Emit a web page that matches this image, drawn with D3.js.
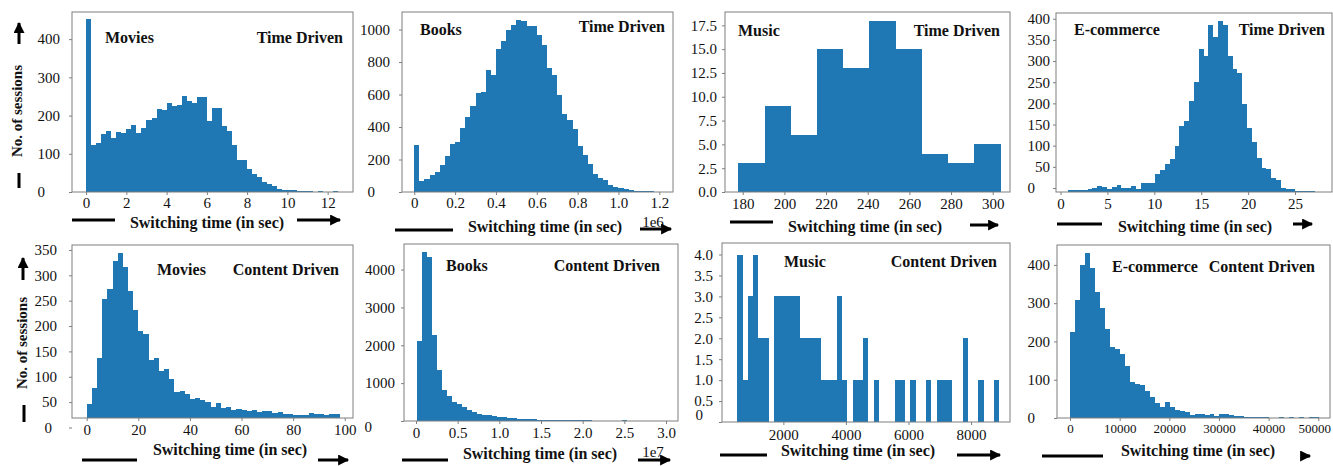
<!DOCTYPE html>
<html>
<head>
<meta charset="utf-8">
<script src="https://cdn.jsdelivr.net/npm/d3@7"></script>
<style>
  body { margin: 0; background: #fff; }
  svg { display: block; }
  text { font-family: "Liberation Serif", "Times New Roman", serif; }
</style>
</head>
<body>
<div id="chart"></div>
<script>
// histogram counts, one value per bin
const moviesTimeCounts = [452,122,127,153,160,140,156,155,166,175,155,168,188,194,216,214,234,225,228,252,
  239,234,248,248,186,219,220,173,160,122,85,85,59,48,39,26,20,16,9,6,4,4,3,3,2,1,3,1,1,3];
const booksTimeCounts = [287,68,82,103,123,164,220,298,306,394,462,528,610,616,749,719,883,928,1000,1027,
  1061,1053,1020,1020,965,903,764,719,595,482,441,386,283,226,175,109,88,76,45,31,27,16,10,6,4,4,6,2,1];
const musicTimeCounts = [3,9,6,15,13,18,15,4,3,5];
const ecomTimeCounts = [4,4,4,4,6,9,14,11,6,12,17,9,10,14,6,22,21,22,42,51,67,77,109,156,168,215,259,338,
  322,395,366,403,394,322,290,282,208,152,117,81,57,55,34,28,10,8,6,2,2,3,3];
const moviesContentCounts = [28,59,119,234,254,310,325,297,251,213,172,165,115,118,93,96,77,51,54,47,
  38,39,35,31,22,30,20,22,16,18,16,13,15,11,13,13,10,11,8,7,5,5,6,10,7,8,6,7,8];
const booksContentCounts = [2118,4475,4342,2268,1342,830,662,503,459,371,282,238,194,168,150,141,106,97,79,71,
  53,53,44,44,35,35,26,26,30,30,30,30,26,26,18,9,9,5,5,0,5,18];
const musicContentCounts = [4,1,3,4,2,2,0,3,3,3,3,3,2,2,2,2,1,1,1,3,1,0,1,1,2,0,1,0,0,0,
  1,1,0,1,0,0,1,0,1,1,1,0,0,2,0,0,1,0,0,1];
const ecomContentCounts = [224,309,400,430,391,330,287,233,185,181,167,135,94,89,87,71,55,39,28,42,
  28,22,17,15,9,10,10,9,10,6,11,10,8,6,4,3,3,3,2,2,1,1,2,1,2,1,2,1,2,2];

// bins: [first edge, bin width]
const moviesTimeBins = [0, 0.25];
const booksTimeBins = [0, 0.025];        // x 1e6
const musicTimeBins = [177.9, 12.59];
const ecomTimeBins = [0.83, 0.515];
const moviesContentBins = [0, 2];
const booksContentBins = [0.008, 0.06];  // x 1e7
const musicContentBins = [527, 167.6];
const ecomContentBins = [100, 1000];

// tick values
const moviesTimeX = [0,2,4,6,8,10,12],  moviesTimeY = [0,100,200,300,400];
const booksTimeX = [0,0.2,0.4,0.6,0.8,1.0,1.2], booksTimeY = [0,200,400,600,800,1000];
const musicTimeX = [180,200,220,240,260,280,300], musicTimeY = [0,2.5,5,7.5,10,12.5,15,17.5];
const ecomTimeX = [0,5,10,15,20,25], ecomTimeY = [0,50,100,150,200,250,300,350,400];
const moviesContentX = [0,20,40,60,80,100], moviesContentY = [0,50,100,150,200,250,300,350];
const booksContentX = [0,0.5,1.0,1.5,2.0,2.5,3.0], booksContentY = [0,1000,2000,3000,4000];
const musicContentX = [2000,4000,6000,8000], musicContentY = [0,0.5,1,1.5,2,2.5,3,3.5,4];
const ecomContentX = [0,10000,20000,30000,40000,50000], ecomContentY = [0,100,200,300,400];

const W = 1333, H = 466;
const blue = "#1f77b4";

const f1 = d => d === 0 ? "0" : d3.format(".1f")(d);
const plain = d => String(d);

let panels = [
  {counts: moviesTimeCounts, bins: moviesTimeBins, xt: moviesTimeX, yt: moviesTimeY, xf: plain, yf: plain,
   name: "Movies", kind: "Time Driven", box: [72, 12, 353, 192], xd: [-0.7, 13.26], yd: [0, 471],
   yPad: 9, yShift: 0, zero: [-15, 0], xPad: 2, nameAt: [105, 43], kindAt: [343, 43],
   label: [207, 228], line: [72, 115, 220], arrow: [297, 350, 220]},
  {counts: booksTimeCounts, bins: booksTimeBins, xt: booksTimeX, yt: booksTimeY, xf: f1, yf: plain,
   name: "Books", kind: "Time Driven", box: [402, 12, 673, 192], xd: [-0.06, 1.267], yd: [0, 1108],
   yPad: 9, yShift: 0, zero: [-15, 0], xPad: 2, nameAt: [420, 35], kindAt: [665, 32],
   label: [545, 232], line: [395, 453, 230], arrow: [640, 681, 229], expo: ["1e6", 653, 227]},
  {counts: musicTimeCounts, bins: musicTimeBins, xt: musicTimeX, yt: musicTimeY, xf: plain, yf: d3.format(".1f"),
   name: "Music", kind: "Time Driven", box: [725, 12, 1010, 192], xd: [171.5, 308.3], yd: [0, 18.9],
   yPad: 5, yShift: 0, zero: [0, 0], xPad: 3, nameAt: [738, 36], kindAt: [1000, 36],
   label: [865, 232], line: [730, 773, 222], arrow: [970, 1008, 225]},
  {counts: ecomTimeCounts, bins: ecomTimeBins, xt: ecomTimeX, yt: ecomTimeY, xf: plain, yf: plain,
   name: "E-commerce", kind: "Time Driven", box: [1056, 13, 1332, 192], xd: [-0.48, 28.94], yd: [0, 423],
   yPad: 3, yShift: -4, zero: [-15, 0], xPad: 3, nameAt: [1074, 35], kindAt: [1325, 35],
   label: [1195, 232], line: [1057, 1102, 224], arrow: [1293, 1322, 224]},
  {counts: moviesContentCounts, bins: moviesContentBins, xt: moviesContentX, yt: moviesContentY, xf: plain, yf: plain,
   name: "Movies", kind: "Content Driven", box: [72, 245, 353, 418], xd: [-5.7, 103.2], yd: [0, 341],
   yPad: 12, yShift: 9.5, zero: [-5, 0], xPad: 3, nameAt: [157, 275], kindAt: [339, 275],
   label: [230, 455], line: [82, 137, 460], arrow: [318, 358, 460]},
  {counts: booksContentCounts, bins: booksContentBins, xt: booksContentX, yt: booksContentY, xf: f1, yf: plain,
   name: "Books", kind: "Content Driven", box: [404, 244, 678, 421], xd: [-0.144, 3.144], yd: [0, 4675],
   yPad: 6, yShift: 0, zero: [-23, 6], xPad: 3, nameAt: [446, 271], kindAt: [660, 271],
   label: [540, 459], line: [402, 448, 460], arrow: [638, 680, 460], expo: ["1e7", 653, 457]},
  {counts: musicContentCounts, bins: musicContentBins, xt: musicContentX, yt: musicContentY, xf: plain, yf: f1,
   name: "Music", kind: "Content Driven", box: [722, 243, 1010, 422], xd: [38, 9245], yd: [0, 4.275],
   yPad: 6, yShift: 0, zero: [-10, -7], xPad: 4, nameAt: [784, 267], kindAt: [997, 267],
   label: [858, 456], line: [720, 767, 455], arrow: [957, 1010, 455]},
  {counts: ecomContentCounts, bins: ecomContentBins, xt: ecomContentX, yt: ecomContentY, xf: plain, yf: plain,
   name: "E-commerce", kind: "Content Driven", box: [1057, 245, 1330, 418], xd: [-2618, 52360], yd: [0, 452],
   yPad: 4, yShift: 0, zero: [-15, 0], xPad: 3, xfs: 13, lastDx: -4, nameAt: [1112, 272], kindAt: [1315, 272],
   label: [1198, 456], line: [1042, 1103, 456], arrow: [1302, 1320, 456]}
];

const svg = d3.select("#chart").append("svg")
  .attr("width", W).attr("height", H)
  .attr("viewBox", [0, 0, W, H].join(" "))
  .style("background-color", "#FFFFFF");

svg.append("defs").append("marker")
  .attr("id", "head")
  .attr("viewBox", "0 0 10 10")
  .attr("refX", 9).attr("refY", 5)
  .attr("markerUnits", "userSpaceOnUse")
  .attr("markerWidth", 13).attr("markerHeight", 11)
  .attr("orient", "auto")
  .append("path").attr("d", "M0,0L10,5L0,10z").attr("fill", "#000");

panels.forEach(function(p) {
  let [l, t, r, b] = p.box;
  let x = d3.scaleLinear().domain(p.xd).range([l, r]);
  let y = d3.scaleLinear().domain(p.yd).range([b, t]);
  let g = svg.append("g");

  // bars
  g.selectAll("rect.bar")
    .data(p.counts)
    .enter().append("rect")
    .attr("class", "bar")
    .attr("x", (d, i) => x(p.bins[0] + i * p.bins[1]))
    .attr("width", (d, i) => x(p.bins[0] + (i + 1) * p.bins[1]) - x(p.bins[0] + i * p.bins[1]))
    .attr("y", d => y(d))
    .attr("height", d => y(0) - y(d))
    .attr("fill", blue)
    .attr("shape-rendering", "crispEdges");

  // frame
  g.append("rect")
    .attr("x", l).attr("y", t).attr("width", r - l).attr("height", b - t)
    .attr("fill", "none").attr("stroke", "#7f7f7f").attr("stroke-width", 1);

  // y axis
  let ya = g.append("g")
    .attr("transform", "translate(" + l + "," + p.yShift + ")")
    .call(d3.axisLeft(y).tickValues(p.yt).tickFormat(p.yf).tickSize(3).tickPadding(p.yPad));
  ya.select(".domain").remove();
  ya.selectAll(".tick line").attr("stroke", "#7f7f7f");
  ya.selectAll(".tick text").attr("font-size", 15).attr("fill", "#111")
    .style("font-family", "'Liberation Serif', serif");
  ya.selectAll(".tick").filter(d => d === 0).select("text")
    .attr("transform", "translate(" + p.zero[0] + "," + p.zero[1] + ")");

  // x axis
  let xa = g.append("g")
    .attr("transform", "translate(0," + b + ")")
    .call(d3.axisBottom(x).tickValues(p.xt).tickFormat(p.xf).tickSize(3).tickPadding(p.xPad));
  xa.select(".domain").remove();
  xa.selectAll(".tick line").attr("stroke", "#7f7f7f");
  xa.selectAll(".tick text").attr("font-size", p.xfs || 15).attr("fill", "#111")
    .style("font-family", "'Liberation Serif', serif");
  if (p.lastDx) {
    xa.selectAll(".tick").filter(d => d === p.xt[p.xt.length - 1]).select("text")
      .attr("dx", p.lastDx);
  }

  // annotations
  g.append("text").attr("x", p.nameAt[0]).attr("y", p.nameAt[1])
    .attr("font-size", 16).attr("font-weight", "bold").attr("fill", "#111")
    .text(p.name);
  g.append("text").attr("x", p.kindAt[0]).attr("y", p.kindAt[1])
    .attr("text-anchor", "end")
    .attr("font-size", 16).attr("font-weight", "bold").attr("fill", "#111")
    .text(p.kind);

  g.append("text").attr("x", p.label[0]).attr("y", p.label[1])
    .attr("text-anchor", "middle")
    .attr("font-size", 16).attr("font-weight", "bold").attr("fill", "#111")
    .text("Switching time (in sec)");

  if (p.expo) {
    g.append("text").attr("x", p.expo[1]).attr("y", p.expo[2])
      .attr("text-anchor", "middle").attr("font-size", 15).attr("fill", "#111")
      .text(p.expo[0]);
  }

  g.append("line")
    .attr("x1", p.line[0]).attr("x2", p.line[1])
    .attr("y1", p.line[2]).attr("y2", p.line[2])
    .attr("stroke", "#000").attr("stroke-width", 3);
  g.append("line")
    .attr("x1", p.arrow[0]).attr("x2", p.arrow[1] - 10)
    .attr("y1", p.arrow[2]).attr("y2", p.arrow[2])
    .attr("stroke", "#000").attr("stroke-width", 3)
    .attr("marker-end", "url(#head)");
});

// row y labels with arrows
let rows = [
  {cx: 17, cy: 111, up: [19, 44, 13], bar: [19, 173, 188]},
  {cx: 22, cy: 343, up: [23, 280, 248], bar: [24, 405, 422]}
];
rows.forEach(function(rw) {
  svg.append("text")
    .attr("transform", "translate(" + (rw.cx + 5) + "," + rw.cy + ") rotate(-90)")
    .attr("text-anchor", "middle")
    .attr("font-size", 15).attr("font-weight", "bold").attr("fill", "#111")
    .text("No. of sessions");
  svg.append("line")
    .attr("x1", rw.up[0]).attr("x2", rw.up[0])
    .attr("y1", rw.up[1]).attr("y2", rw.up[2] + 10)
    .attr("stroke", "#000").attr("stroke-width", 3)
    .attr("marker-end", "url(#head)");
  svg.append("line")
    .attr("x1", rw.bar[0]).attr("x2", rw.bar[0])
    .attr("y1", rw.bar[1]).attr("y2", rw.bar[2])
    .attr("stroke", "#000").attr("stroke-width", 3);
});
</script>
</body>
</html>
